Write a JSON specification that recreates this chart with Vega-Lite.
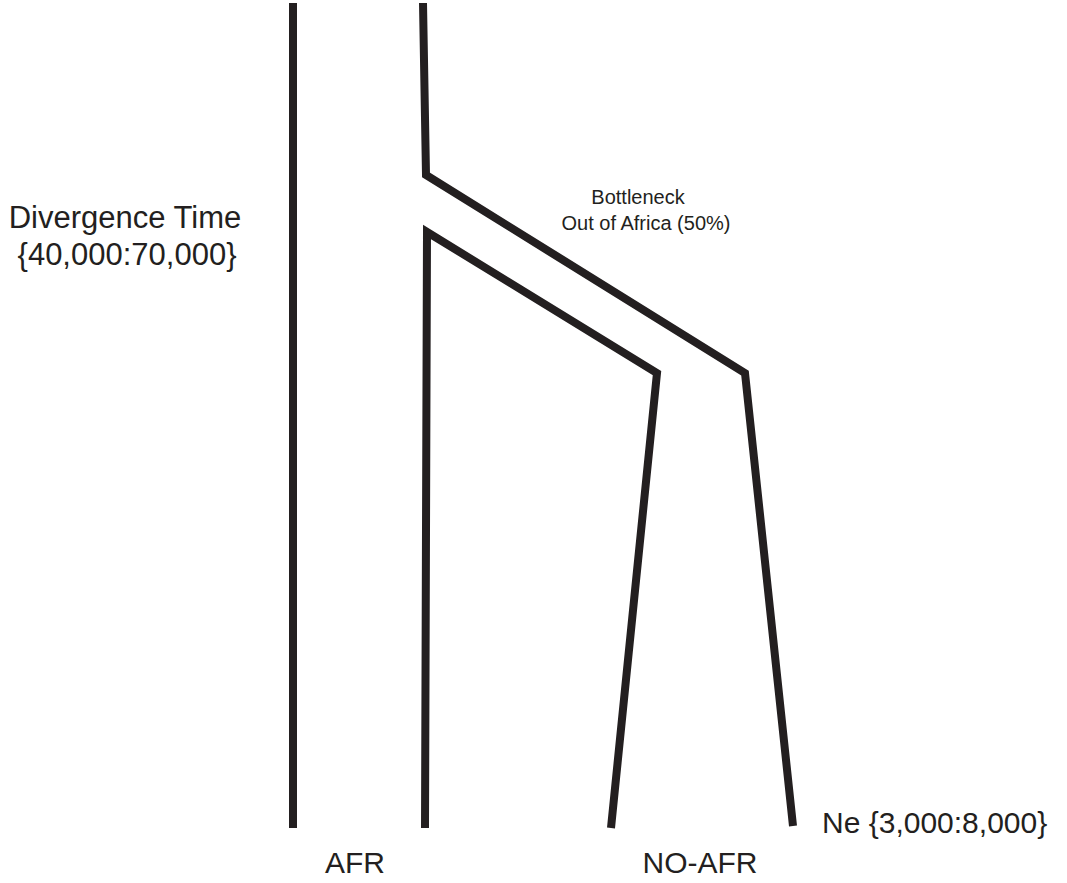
{
  "$schema": "https://vega.github.io/schema/vega-lite/v6.json",
  "width": 1067,
  "height": 883,
  "padding": 0,
  "autosize": {"type": "none"},
  "background": "white",
  "config": {"view": {"stroke": null}},
  "datasets": {
    "paths": [
      {"path": "afr", "order": 1, "x": 293, "y": 3},
      {"path": "afr", "order": 2, "x": 293, "y": 828},
      {"path": "outer", "order": 1, "x": 423, "y": 3},
      {"path": "outer", "order": 2, "x": 426, "y": 175},
      {"path": "outer", "order": 3, "x": 745, "y": 373},
      {"path": "outer", "order": 4, "x": 793, "y": 826},
      {"path": "inner", "order": 1, "x": 425, "y": 828},
      {"path": "inner", "order": 2, "x": 427, "y": 232},
      {"path": "inner", "order": 3, "x": 657, "y": 373},
      {"path": "inner", "order": 4, "x": 611, "y": 828}
    ],
    "leftText": [
      {"label": "Divergence Time", "x": 125, "y": 228},
      {"label": "{40,000:70,000}", "x": 127, "y": 265}
    ],
    "bigText": [
      {"label": "AFR", "x": 355, "y": 873},
      {"label": "NO-AFR", "x": 700, "y": 873}
    ],
    "neText": [
      {"label": "Ne {3,000:8,000}", "x": 822, "y": 833}
    ],
    "smallText": [
      {"label": "Bottleneck", "x": 638, "y": 204},
      {"label": "Out of Africa (50%)", "x": 646, "y": 230}
    ]
  },
  "layer": [
    {
      "data": {"name": "paths"},
      "mark": {"type": "line", "color": "#231f20", "strokeWidth": 8, "strokeJoin": "miter", "strokeCap": "butt"},
      "encoding": {
        "x": {"field": "x", "type": "quantitative", "scale": {"domain": [0, 1067], "nice": false, "zero": false}, "axis": null},
        "y": {"field": "y", "type": "quantitative", "scale": {"domain": [883, 0], "nice": false, "zero": false}, "axis": null},
        "detail": {"field": "path"},
        "order": {"field": "order"}
      }
    },
    {
      "data": {"name": "leftText"},
      "mark": {"type": "text", "font": "Liberation Sans", "fontSize": 31, "color": "#231f20", "align": "center", "baseline": "alphabetic"},
      "encoding": {
        "x": {"field": "x", "type": "quantitative", "scale": {"domain": [0, 1067], "nice": false, "zero": false}, "axis": null},
        "y": {"field": "y", "type": "quantitative", "scale": {"domain": [883, 0], "nice": false, "zero": false}, "axis": null},
        "text": {"field": "label"}
      }
    },
    {
      "data": {"name": "bigText"},
      "mark": {"type": "text", "font": "Liberation Sans", "fontSize": 30, "color": "#231f20", "align": "center", "baseline": "alphabetic"},
      "encoding": {
        "x": {"field": "x", "type": "quantitative", "scale": {"domain": [0, 1067], "nice": false, "zero": false}, "axis": null},
        "y": {"field": "y", "type": "quantitative", "scale": {"domain": [883, 0], "nice": false, "zero": false}, "axis": null},
        "text": {"field": "label"}
      }
    },
    {
      "data": {"name": "neText"},
      "mark": {"type": "text", "font": "Liberation Sans", "fontSize": 30, "color": "#231f20", "align": "left", "baseline": "alphabetic"},
      "encoding": {
        "x": {"field": "x", "type": "quantitative", "scale": {"domain": [0, 1067], "nice": false, "zero": false}, "axis": null},
        "y": {"field": "y", "type": "quantitative", "scale": {"domain": [883, 0], "nice": false, "zero": false}, "axis": null},
        "text": {"field": "label"}
      }
    },
    {
      "data": {"name": "smallText"},
      "mark": {"type": "text", "font": "Liberation Sans", "fontSize": 20, "color": "#231f20", "align": "center", "baseline": "alphabetic"},
      "encoding": {
        "x": {"field": "x", "type": "quantitative", "scale": {"domain": [0, 1067], "nice": false, "zero": false}, "axis": null},
        "y": {"field": "y", "type": "quantitative", "scale": {"domain": [883, 0], "nice": false, "zero": false}, "axis": null},
        "text": {"field": "label"}
      }
    }
  ]
}
